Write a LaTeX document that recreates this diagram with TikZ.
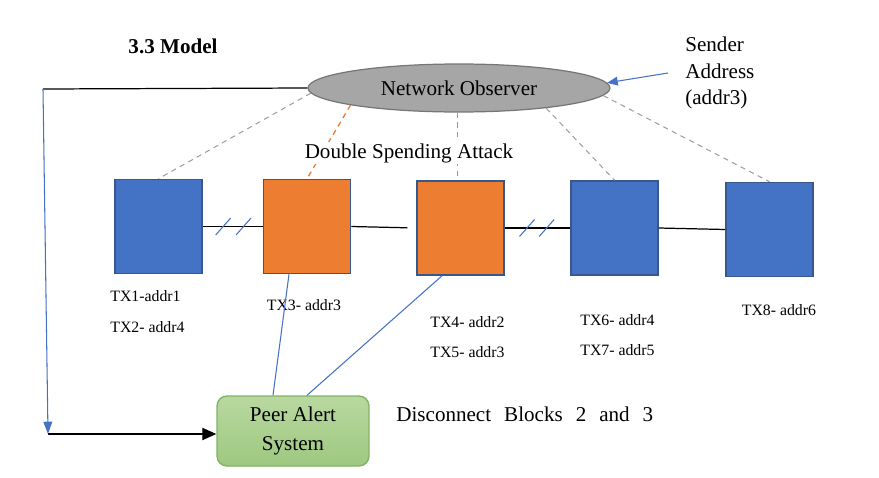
\documentclass[tikz,border=0pt]{standalone}
\usepackage{fontspec}
\setmainfont{Liberation Serif}
\usetikzlibrary{shapes.geometric,arrows.meta,calc}
\definecolor{blockblue}{RGB}{68,114,196}
\definecolor{blockorange}{RGB}{237,125,49}
\definecolor{blockedge}{RGB}{56,87,140}
\definecolor{observergray}{RGB}{166,166,166}
\definecolor{observeredge}{RGB}{118,118,118}
\definecolor{alerttop}{RGB}{184,216,160}
\definecolor{alertbottom}{RGB}{158,200,128}
\definecolor{alertedge}{RGB}{130,178,100}
\definecolor{dashgray}{RGB}{160,160,160}

\tikzset{
  block/.style={draw=blockedge,line width=0.9pt,minimum width=1.74cm,minimum height=1.88cm,inner sep=0pt},
  txlabel/.style={font=\fontsize{9}{11}\selectfont,anchor=west,inner sep=0pt},
  watch/.style={dashgray,line width=0.6pt,dash pattern=on 3pt off 2.5pt},
  attack/.style={blockorange,line width=0.75pt,dash pattern=on 3pt off 2.5pt},
  link/.style={blockblue,line width=0.6pt},
  chain/.style={black,line width=0.7pt},
  breakmark/.style={blockblue,line width=0.6pt}
}

\begin{document}
\begin{tikzpicture}[x=0.02cm,y=-0.02cm]
        \useasboundingbox (0,0) rectangle (879,477);

        \coordinate (p1) at (158.5,226.5);
        \coordinate (p2) at (307,226.5);
        \coordinate (p3) at (460.5,228);
        \coordinate (p4) at (614.5,228);
        \coordinate (p5) at (769.5,229.5);

        \node[font=\fontsize{12}{14}\selectfont\bfseries] (title) at (173,46) {3.3 Model};

        \node[draw=observeredge,fill=observergray,ellipse,line width=0.7pt,minimum width=6.04cm,minimum height=0.96cm,inner sep=0pt,font=\fontsize{12}{14}\selectfont] (obs) at (459,88) {Network Observer};

        \node[align=left,anchor=west,inner sep=0pt,font=\fontsize{12}{15.3}\selectfont] (sender) at (685,73) {Sender\\Address\\(addr3)};
        \coordinate (sndr) at (668,73);

		\node[block,fill=blockblue] (b1) at (p1){};
		\node[block,fill=blockorange] (b2) at (p2){};
		\node[block,fill=blockorange] (b3) at (p3){};
		\node[block,fill=blockblue] (b4) at (p4){};
		\node[block,fill=blockblue] (b5) at (p5){};

        % observer to blocks
        \draw[watch] (obs.182) -- (b1.north);
        \draw[attack] (obs.189) -- (b2.north);
        \draw[attack] (obs.266) -- (obs.266 |- b3.north);
        \draw[watch] (obs.347) -- (b4.north);
        \draw[watch] (obs.357) -- (b5.north);

        \node[fill=white,inner sep=1pt,font=\fontsize{12}{14}\selectfont] (dsa) at (409,153) {Double Spending Attack};

        \draw[link,-{Triangle[length=6pt,width=5pt]}] (sndr) -- (obs.2);

        % chain of blocks
        \draw[chain] (b1.east) -- coordinate[pos=0.34] (s1) coordinate[pos=0.68] (s2) (b2.west);
        \draw[chain,shorten >=5] (b2.east) -- (b3.west);
        \draw[chain] (b3.east) -- coordinate[pos=0.34] (s3) coordinate[pos=0.64] (s4) (b4.west);
        \draw[chain] (b4.east) -- (b5.west);
        \foreach \s in {s1,s2,s3,s4}
            \draw[breakmark] ($(\s)+(-7.5,8.5)$) -- ($(\s)+(7.5,-8.5)$);

        \node[txlabel] (tx1) at (110,296.5) {TX1-addr1};
        \node[txlabel] (tx2) at (110,327) {TX2- addr4};
        \node[txlabel] (tx3) at (266.5,305.5) {TX3- addr3};
        \node[txlabel] (tx4) at (430,322) {TX4- addr2};
        \node[txlabel] (tx5) at (430,352) {TX5- addr3};
        \node[txlabel] (tx6) at (580,320) {TX6- addr4};
        \node[txlabel] (tx7) at (580,350) {TX7- addr5};
        \node[txlabel] (tx8) at (741.5,310) {TX8- addr6};

        \node[draw=alertedge,top color=alerttop,bottom color=alertbottom,rounded corners=0.2cm,line width=0.8pt,minimum width=3.04cm,minimum height=1.4cm,align=center,font=\fontsize{12}{16}\selectfont] (alert) at (293,431) {Peer Alert\\System};

        \node[anchor=west,inner sep=0pt,font=\fontsize{12}{14}\selectfont] (disc) at (396,414) {Disconnect\hspace{0.26cm}Blocks\hspace{0.26cm}2\hspace{0.26cm}and\hspace{0.26cm}3};

        % alert links
        \draw[link] ([xshift=-0.4cm]alert.north) -- ([xshift=-0.36cm]b2.south);
        \draw[link] ([xshift=0.28cm]alert.north) -- ([xshift=-0.37cm]b3.south);

        \coordinate (c1) at (43,89);
        \coordinate (c2) at (48,434);
        \draw[chain] (obs.west) -- (c1);
        \draw[link,-{Triangle[length=7pt,width=5pt]}] (c1) -- (c2);
        \draw[chain,-{Triangle[length=8pt,width=7pt]}] (c2) -- (alert.west |- c2);
    \end{tikzpicture}
\end{document}
